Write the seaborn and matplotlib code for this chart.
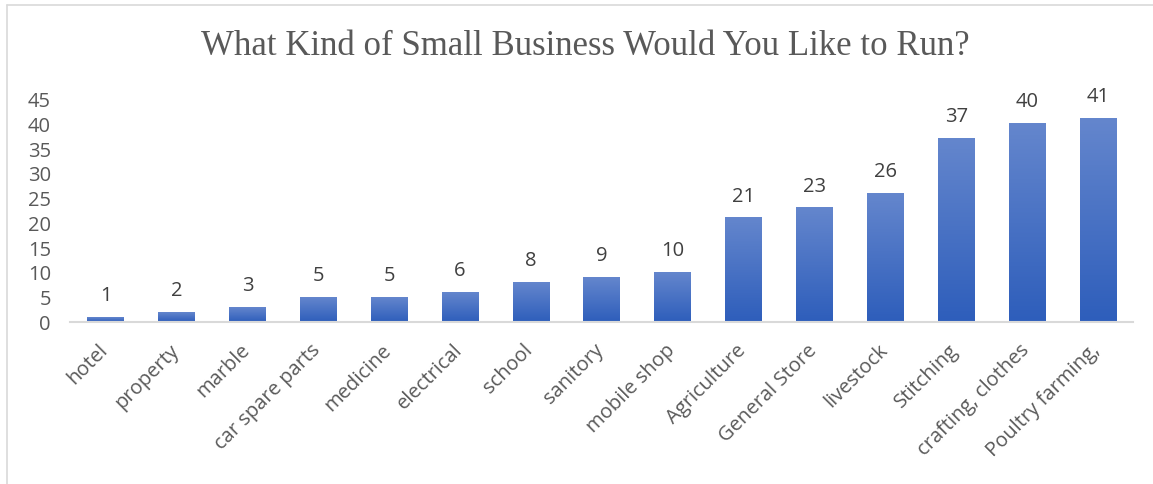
import numpy as np
import pandas as pd
import matplotlib
matplotlib.use("Agg")
import matplotlib.pyplot as plt
import matplotlib.transforms as mtrans
import seaborn as sns
from matplotlib.colors import LinearSegmentedColormap
from matplotlib.lines import Line2D

businesses = ["hotel", "property", "marble", "car spare parts", "medicine", "electrical",
              "school", "sanitory", "mobile shop", "Agriculture", "General Store",
              "livestock", "Stitching", "crafting, clothes", "Poultry farming,"]
counts = [1, 2, 3, 5, 5, 6, 8, 9, 10, 21, 23, 26, 37, 40, 41]
y_ticks = [0, 5, 10, 15, 20, 25, 30, 35, 40, 45]

df = pd.DataFrame({"business": businesses, "count": counts})

sns.set_style("white")
plt.rcParams["font.family"] = ["Open Sans", "DejaVu Sans"]

fig = plt.figure(figsize=(11.53, 4.85), dpi=100)
ax = fig.add_axes([0.061, 0.335, 0.922, 0.46])

sns.barplot(data=df, x="business", y="count", color="#4472C4", width=0.52, ax=ax)

# gradient fill, lighter at the top like the office chart
grad = LinearSegmentedColormap.from_list("bluegrad", ["#2E5EBB", "#6486CD"])
for bar in ax.patches:
    x0, y0 = bar.get_x(), bar.get_y()
    w, h = bar.get_width(), bar.get_height()
    img = ax.imshow(np.linspace(0, 1, 100).reshape(-1, 1), cmap=grad, aspect="auto",
                    origin="lower", extent=[x0, x0 + w, y0, y0 + h], zorder=2)
    img.set_clip_path(bar)
    bar.set_facecolor("none")
    bar.set_edgecolor("none")

for i, v in enumerate(counts):
    ax.text(i, v + 2.4, str(v), ha="center", va="bottom", fontsize=14.5, color="#404040")

ax.set_xlim(-0.5, len(businesses) - 0.5)
ax.set_ylim(0, 45)
ax.set_yticks(y_ticks)
ax.tick_params(axis="y", length=0, labelsize=14.5, labelcolor="#595959", pad=14)
ax.tick_params(axis="x", length=0, labelsize=14.5, labelcolor="#595959", pad=13)
# nudge rotated labels left so their ends sit under the bars
shift = mtrans.ScaledTranslation(-8 / 100, 0, fig.dpi_scale_trans)
for lab in ax.get_xticklabels():
    lab.set_rotation(45)
    lab.set_ha("right")
    lab.set_rotation_mode("anchor")
    lab.set_transform(lab.get_transform() + shift)
ax.set_xlabel("")
ax.set_ylabel("")
for s in ["top", "right", "left"]:
    ax.spines[s].set_visible(False)
ax.spines["bottom"].set_color("#D9D9D9")
ax.spines["bottom"].set_linewidth(1.5)

fig.text(0.508, 0.905, "What Kind of Small Business Would You Like to Run?",
         ha="center", va="center", fontsize=25, color="#595959",
         family=["Liberation Serif", "DejaVu Serif"])

# chart frame (left and top edges visible)
fig.add_artist(Line2D([0.0065, 0.0065], [0, 0.988], transform=fig.transFigure, color="#D9D9D9", lw=1.2))
fig.add_artist(Line2D([0.0065, 1.0], [0.988, 0.988], transform=fig.transFigure, color="#D9D9D9", lw=1.2))

fig.savefig("out.png", dpi=100)
